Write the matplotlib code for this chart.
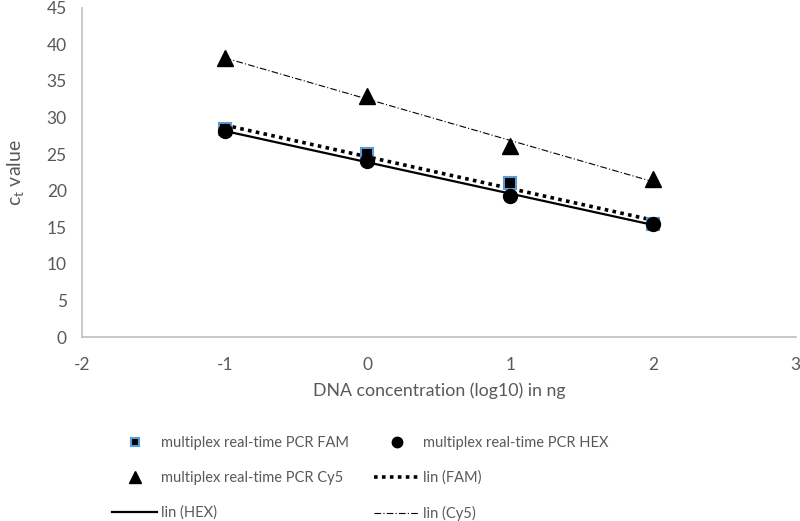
import numpy as np
import matplotlib.pyplot as plt

plt.rcParams['font.family'] = ['Lato', 'DejaVu Sans']
plt.rcParams['axes.unicode_minus'] = False

# log10 DNA concentration (ng)
conc = [-1, 0, 1, 2]

# ct values
ct_fam = [28.5, 25.0, 21.0, 15.4]
ct_hex = [28.2, 24.0, 19.3, 15.5]
ct_cy5 = [38.1, 33.0, 26.1, 21.6]

grey = "#595959"

fig = plt.figure(figsize=(8, 5.21), dpi=100)
ax = fig.add_axes([0.1025, 0.353, 0.892, 0.632])

x = np.array(conc, dtype=float)

# linear trendlines
fit_fam = np.polyfit(x, ct_fam, 1)
fit_hex = np.polyfit(x, ct_hex, 1)
fit_cy5 = np.polyfit(x, ct_cy5, 1)

l_fam, = ax.plot(x, np.polyval(fit_fam, x), color="black", linestyle=(0, (1, 1.2)), linewidth=2.6, label="lin (FAM)")
l_hex, = ax.plot(x, np.polyval(fit_hex, x), color="black", linestyle="-", linewidth=1.6, label="lin (HEX)")
l_cy5, = ax.plot(x, np.polyval(fit_cy5, x), color="black", linestyle=(0, (6, 2, 1, 2)), linewidth=0.8, label="lin (Cy5)")

p_fam, = ax.plot(x, ct_fam, linestyle="none", marker="s", markersize=8, color="black",
                 markeredgecolor="#5b9bd5", markeredgewidth=1.5, label="multiplex real-time PCR FAM")
p_hex, = ax.plot(x, ct_hex, linestyle="none", marker="o", markersize=10, color="black",
                 label="multiplex real-time PCR HEX")
p_cy5, = ax.plot(x, ct_cy5, linestyle="none", marker="^", markersize=11, color="black",
                 label="multiplex real-time PCR Cy5")

ax.set_xlim(-2, 3)
ax.set_ylim(0, 45)
ax.set_xticks([-2, -1, 0, 1, 2, 3])
ax.set_yticks(range(0, 46, 5))
ax.tick_params(length=0, labelsize=12.5, labelcolor=grey)
ax.tick_params(axis="x", pad=14)
ax.tick_params(axis="y", pad=11)

for side in ["top", "right"]:
    ax.spines[side].set_visible(False)
for side in ["left", "bottom"]:
    ax.spines[side].set_color("#bfbfbf")
    ax.spines[side].set_linewidth(1.2)

ax.set_xlabel("DNA concentration (log10) in ng", fontsize=12.8, color=grey, labelpad=7)
ax.set_ylabel(r"c$_\mathregular{t}$ value", fontsize=14, color=grey, labelpad=14)

# two legend columns placed separately
leg_kw = dict(loc="upper left", frameon=False, fontsize=10.5, labelcolor=grey,
              handlelength=3.1, handletextpad=0.25, labelspacing=1.42, borderpad=0,
              borderaxespad=0, markerscale=0.75)
col1 = [p_fam, p_cy5, l_hex]
col2 = [p_hex, l_fam, l_cy5]
fig.legend(handles=col1, labels=[h.get_label() for h in col1],
           bbox_to_anchor=(112 / 800, 1 - 436 / 521), **leg_kw)
fig.legend(handles=col2, labels=[h.get_label() for h in col2],
           bbox_to_anchor=(374 / 800, 1 - 436 / 521), **leg_kw)

fig.savefig("out.png", dpi=100)
